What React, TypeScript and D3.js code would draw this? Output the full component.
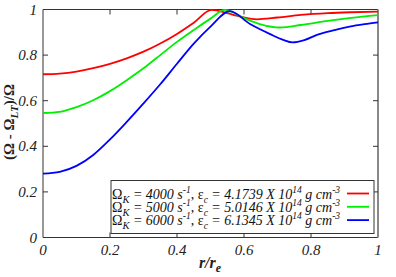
import React, { useEffect, useRef } from 'react';
import * as d3 from 'd3';

// r / r_e sample positions and (Ω - Ω_LT)/Ω
const rRed = [0, 0.05, 0.1, 0.15, 0.2, 0.25, 0.3, 0.35, 0.4, 0.45, 0.503, 0.55, 0.578, 0.6, 0.638, 0.7, 0.77, 0.85, 0.92, 1.0];
const omegaRed = [0.716, 0.719, 0.728, 0.743, 0.762, 0.786, 0.815, 0.851, 0.893, 0.942, 0.998, 0.984, 0.973, 0.965, 0.957, 0.965, 0.976, 0.984, 0.988, 0.991];

const rGreen = [0, 0.05, 0.1, 0.15, 0.2, 0.25, 0.3, 0.35, 0.4, 0.45, 0.5, 0.543, 0.6, 0.65, 0.707, 0.77, 0.85, 0.92, 1.0];
const omegaGreen = [0.546, 0.551, 0.572, 0.602, 0.642, 0.69, 0.742, 0.8, 0.858, 0.91, 0.96, 0.998, 0.962, 0.935, 0.921, 0.932, 0.95, 0.963, 0.975];

const rBlue = [0, 0.05, 0.1, 0.15, 0.2, 0.25, 0.3, 0.35, 0.4, 0.45, 0.5, 0.558, 0.618, 0.678, 0.717, 0.745, 0.78, 0.82, 0.87, 0.915, 0.96, 1.0];
const omegaBlue = [0.28, 0.288, 0.314, 0.362, 0.43, 0.507, 0.588, 0.672, 0.762, 0.85, 0.925, 0.993, 0.936, 0.892, 0.867, 0.856, 0.866, 0.89, 0.91, 0.925, 0.936, 0.944];

const xTicks = [0, 0.2, 0.4, 0.6, 0.8, 1];
const yTicks = [0, 0.2, 0.4, 0.6, 0.8, 1];

const legendOmegaK = ['4000', '5000', '6000'];
const legendEps = ['4.1739', '5.0146', '6.1345'];
const colors = ['#ff0000', '#00ee00', '#0000ff'];

export default function App() {
  const ref = useRef<SVGSVGElement>(null);

  useEffect(() => {
    const svg = d3.select(ref.current);
    svg.selectAll('*').remove();

    const width = 396, height = 277;
    const margin = { top: 9.5, right: 18, bottom: 39.5, left: 43 };
    const gw = width - margin.left - margin.right;
    const gh = height - margin.top - margin.bottom;

    const x = d3.scaleLinear().domain([0, 1]).range([0, gw]);
    const y = d3.scaleLinear().domain([0, 1]).range([gh, 0]);

    const g = svg.append('g').attr('transform', `translate(${margin.left},${margin.top})`);
    // serif first, fall back to the narrower Liberation sans faces
    const font = "'Liberation Serif', Tinos, 'Nimbus Roman', 'Liberation Sans Narrow', 'Liberation Sans', Arimo, sans-serif";

    // frame
    g.append('line').attr('x1', 0).attr('x2', gw).attr('y1', 0).attr('y2', 0).attr('stroke', '#333');
    g.append('line').attr('x1', 0).attr('x2', gw).attr('y1', gh).attr('y2', gh).attr('stroke', '#333');
    g.append('line').attr('x1', 0).attr('x2', 0).attr('y1', 0).attr('y2', gh).attr('stroke', '#333');
    g.append('line').attr('x1', gw).attr('x2', gw).attr('y1', 0).attr('y2', gh).attr('stroke', '#888').attr('stroke-width', 2);

    // inward ticks on all sides
    const tl = 5;
    xTicks.slice(1, -1).forEach(t => {
      g.append('line').attr('x1', x(t)).attr('x2', x(t)).attr('y1', gh).attr('y2', gh - tl).attr('stroke', '#333');
      g.append('line').attr('x1', x(t)).attr('x2', x(t)).attr('y1', 0).attr('y2', tl).attr('stroke', '#333');
    });
    yTicks.slice(1, -1).forEach(t => {
      g.append('line').attr('x1', 0).attr('x2', tl).attr('y1', y(t)).attr('y2', y(t)).attr('stroke', '#333');
      g.append('line').attr('x1', gw).attr('x2', gw - tl).attr('y1', y(t)).attr('y2', y(t)).attr('stroke', '#333');
    });

    // tick labels
    g.selectAll('.xl').data(xTicks).enter().append('text')
      .attr('x', d => x(d)).attr('y', gh + 17)
      .attr('text-anchor', 'middle')
      .style('font-family', font).style('font-style', 'italic').style('font-size', '15px')
      .attr('fill', '#222')
      .text(d => d3.format('')(d));
    g.selectAll('.yl').data(yTicks).enter().append('text')
      .attr('x', -6).attr('y', d => y(d) + 5)
      .attr('text-anchor', 'end')
      .style('font-family', font).style('font-style', 'italic').style('font-size', '15px')
      .attr('fill', '#222')
      .text(d => d3.format('')(d));

    // curves
    const line = d3.line<[number, number]>()
      .x(d => x(d[0])).y(d => y(d[1]))
      .curve(d3.curveMonotoneX);
    const series: [number[], number[]][] = [[rRed, omegaRed], [rGreen, omegaGreen], [rBlue, omegaBlue]];
    series.forEach(([rs, vs], i) => {
      g.append('path')
        .datum(rs.map((r, j) => [r, vs[j]] as [number, number]))
        .attr('fill', 'none').attr('stroke', colors[i]).attr('stroke-width', 1.8)
        .attr('d', line);
    });

    // legend
    const lg = g.append('g').attr('transform', `translate(${x(0.203)},${y(0.25)})`);
    lg.append('rect').attr('x', 0).attr('y', 0).attr('width', 263).attr('height', 53)
      .attr('fill', 'white').attr('stroke', '#333');
    legendOmegaK.forEach((ok, i) => {
      const ty = 18 + i * 13.3;
      const t = lg.append('text').attr('x', 1).attr('y', ty)
        .style('font-family', font).style('font-size', '14px').attr('fill', '#111');
      t.append('tspan').text('Ω');
      t.append('tspan').style('font-style', 'italic').style('font-size', '10.5px').attr('dy', 4).text('K');
      t.append('tspan').style('font-style', 'italic').attr('dy', -4).text(` = ${ok} s`);
      t.append('tspan').style('font-style', 'italic').style('font-size', '9.5px').attr('dy', -6).text('-1');
      t.append('tspan').attr('dy', 6).text(', ε');
      t.append('tspan').style('font-style', 'italic').style('font-size', '9.5px').attr('dy', 4).text('c');
      t.append('tspan').style('font-style', 'italic').attr('dy', -4).text(` = ${legendEps[i]} X 10`);
      t.append('tspan').style('font-style', 'italic').style('font-size', '9.5px').attr('dy', -6).text('14');
      t.append('tspan').style('font-style', 'italic').attr('dy', 6).text(' g cm');
      t.append('tspan').style('font-style', 'italic').style('font-size', '9.5px').attr('dy', -6).text('-3');
      lg.append('line').attr('x1', 236).attr('x2', 258).attr('y1', ty - 5).attr('y2', ty - 5)
        .attr('stroke', colors[i]).attr('stroke-width', 1.8);
    });

    // axis titles
    const xt = svg.append('text').attr('x', 210).attr('y', 268)
      .attr('text-anchor', 'middle')
      .style('font-family', font).style('font-style', 'italic').style('font-weight', 'bold').style('font-size', '16px')
      .attr('fill', '#222');
    xt.append('tspan').text('r/r');
    xt.append('tspan').style('font-size', '12px').attr('dy', 4).text('e');

    const yt = svg.append('text')
      .attr('transform', 'translate(14,122) rotate(-90)')
      .attr('text-anchor', 'middle')
      .style('font-family', font).style('font-weight', 'bold').style('font-size', '15px')
      .attr('fill', '#222');
    yt.append('tspan').text('(Ω - Ω');
    yt.append('tspan').style('font-style', 'italic').style('font-size', '11px').attr('dy', 4).text('LT');
    yt.append('tspan').attr('dy', -4).text(')/Ω');
  }, []);

  return (
    <svg ref={ref} width={396} height={277}
      style={{ position: 'absolute', left: 0, top: 0, background: 'white' }} />
  );
}
